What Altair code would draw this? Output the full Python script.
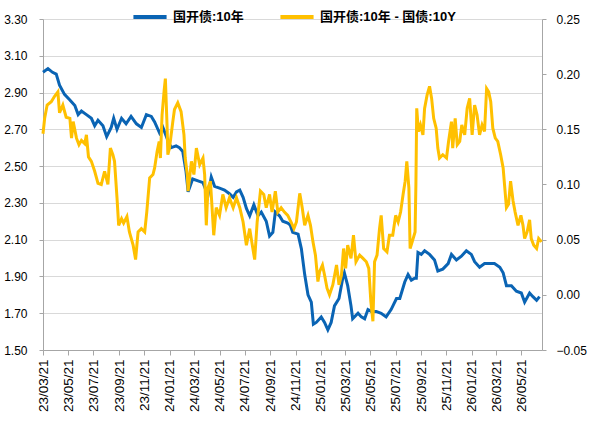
import altair as alt
import pandas as pd

S1 = "国开债:10年"
S2 = "国开债:10年 - 国债:10Y"
BLUE = "#0A64B4"
GOLD = "#FFC000"

blue_dates = [
    "2023-03-21", "2023-04-02", "2023-04-13", "2023-04-22", "2023-04-30", "2023-05-12",
    "2023-05-25", "2023-06-06", "2023-06-14", "2023-06-22", "2023-07-04", "2023-07-16",
    "2023-07-24", "2023-08-01", "2023-08-13", "2023-08-22", "2023-09-02", "2023-09-08",
    "2023-09-16", "2023-09-27", "2023-10-08", "2023-10-20", "2023-11-02", "2023-11-14",
    "2023-11-26", "2023-12-08", "2023-12-16", "2023-12-28", "2024-01-05", "2024-01-17",
    "2024-01-25", "2024-02-06", "2024-02-14", "2024-02-22", "2024-03-01", "2024-03-06",
    "2024-03-17", "2024-03-30", "2024-04-11", "2024-04-23", "2024-05-01", "2024-05-09",
    "2024-05-21", "2024-06-02", "2024-06-14", "2024-06-23", "2024-07-01", "2024-07-09",
    "2024-07-17", "2024-07-25", "2024-08-02", "2024-08-12", "2024-08-22", "2024-08-30",
    "2024-09-11", "2024-09-19", "2024-09-27", "2024-10-03", "2024-10-13", "2024-10-21",
    "2024-11-02", "2024-11-08", "2024-11-14", "2024-11-27", "2024-12-05", "2024-12-13",
    "2024-12-21", "2024-12-29", "2025-01-03", "2025-01-10", "2025-01-22", "2025-01-30",
    "2025-02-07", "2025-02-15", "2025-02-23", "2025-03-06", "2025-03-15", "2025-03-19",
    "2025-03-27", "2025-04-04", "2025-04-08", "2025-04-21", "2025-04-29", "2025-05-07",
    "2025-05-15", "2025-05-23", "2025-06-04", "2025-06-16", "2025-06-28", "2025-07-10",
    "2025-07-23", "2025-07-31", "2025-08-12", "2025-08-20", "2025-08-28", "2025-09-05",
    "2025-09-09", "2025-09-13", "2025-09-21", "2025-09-29", "2025-10-11", "2025-10-23",
    "2025-10-31", "2025-11-12", "2025-11-25", "2025-12-03", "2025-12-15", "2025-12-27",
    "2026-01-08", "2026-01-20", "2026-01-28", "2026-02-09", "2026-02-21", "2026-03-05",
    "2026-03-17", "2026-03-30", "2026-04-07", "2026-04-15", "2026-04-27", "2026-05-09",
    "2026-05-21", "2026-05-29", "2026-06-10", "2026-06-18", "2026-06-27", "2026-07-04",
]
blue_vals = [
    3.01, 3.03, 3.01, 3.00, 2.94, 2.89,
    2.86, 2.83, 2.78, 2.80, 2.78, 2.76,
    2.72, 2.75, 2.72, 2.66, 2.71, 2.76,
    2.70, 2.76, 2.73, 2.77, 2.73, 2.71,
    2.78, 2.77, 2.74, 2.68, 2.71, 2.64,
    2.60, 2.61, 2.60, 2.58, 2.47, 2.36,
    2.43, 2.42, 2.41, 2.34, 2.44, 2.39,
    2.38, 2.37, 2.35, 2.33, 2.36, 2.37,
    2.33, 2.27, 2.23, 2.29, 2.23, 2.25,
    2.20, 2.12, 2.14, 2.25, 2.23, 2.20,
    2.19, 2.18, 2.14, 2.13, 2.05, 1.91,
    1.80, 1.76, 1.64, 1.65, 1.68, 1.65,
    1.61, 1.65, 1.74, 1.78, 1.89, 1.92,
    1.85, 1.74, 1.67, 1.70, 1.68, 1.67,
    1.72, 1.71, 1.71, 1.70, 1.68, 1.72,
    1.78, 1.78, 1.87, 1.91, 1.88, 1.89,
    1.89, 2.03, 2.02, 2.04, 2.02, 1.99,
    1.93, 1.94, 1.97, 2.02, 1.99, 2.01,
    2.04, 2.02, 1.98, 1.95, 1.97, 1.97,
    1.97, 1.95, 1.92, 1.85, 1.85, 1.82,
    1.81, 1.76, 1.81, 1.79, 1.77, 1.79,
]

gold_dates = [
    "2023-03-21", "2023-03-25", "2023-03-31", "2023-04-10", "2023-04-18", "2023-04-26",
    "2023-04-30", "2023-05-08", "2023-05-16", "2023-05-25", "2023-05-29", "2023-06-02",
    "2023-06-10", "2023-06-16", "2023-06-22", "2023-06-30", "2023-07-04", "2023-07-09",
    "2023-07-16", "2023-07-24", "2023-08-01", "2023-08-09", "2023-08-17", "2023-08-25",
    "2023-08-31", "2023-09-06", "2023-09-10", "2023-09-16", "2023-09-20", "2023-09-27",
    "2023-10-02", "2023-10-10", "2023-10-16", "2023-10-25", "2023-10-31", "2023-11-06",
    "2023-11-14", "2023-11-22", "2023-11-27", "2023-12-04", "2023-12-12", "2023-12-16",
    "2023-12-22", "2023-12-27", "2023-12-30", "2024-01-03", "2024-01-08", "2024-01-11",
    "2024-01-15", "2024-01-17", "2024-01-21", "2024-01-29", "2024-02-02", "2024-02-10",
    "2024-02-18", "2024-02-25", "2024-02-28", "2024-03-04", "2024-03-06", "2024-03-14",
    "2024-03-20", "2024-03-26", "2024-04-03", "2024-04-11", "2024-04-15", "2024-04-19",
    "2024-04-23", "2024-04-29", "2024-05-07", "2024-05-13", "2024-05-21", "2024-05-29",
    "2024-06-06", "2024-06-14", "2024-06-23", "2024-07-01", "2024-07-09", "2024-07-17",
    "2024-07-25", "2024-08-02", "2024-08-07", "2024-08-14", "2024-08-20", "2024-08-28",
    "2024-09-05", "2024-09-11", "2024-09-19", "2024-09-25", "2024-10-03", "2024-10-09",
    "2024-10-17", "2024-10-25", "2024-11-02", "2024-11-10", "2024-11-17", "2024-11-23",
    "2024-12-01", "2024-12-07", "2024-12-13", "2024-12-21", "2024-12-27", "2025-01-02",
    "2025-01-08", "2025-01-14", "2025-01-18", "2025-01-25", "2025-01-30", "2025-02-05",
    "2025-02-11", "2025-02-19", "2025-02-28", "2025-03-06", "2025-03-12", "2025-03-17",
    "2025-03-22", "2025-03-27", "2025-04-04", "2025-04-10", "2025-04-16", "2025-04-25",
    "2025-05-03", "2025-05-11", "2025-05-17", "2025-05-22", "2025-05-27", "2025-05-31",
    "2025-06-06", "2025-06-12", "2025-06-16", "2025-06-22", "2025-06-30", "2025-07-06",
    "2025-07-14", "2025-07-21", "2025-07-27", "2025-08-02", "2025-08-08", "2025-08-13",
    "2025-08-17", "2025-08-22", "2025-08-25", "2025-08-30", "2025-09-06", "2025-09-08",
    "2025-09-10", "2025-09-14", "2025-09-19", "2025-09-25", "2025-09-29", "2025-10-05",
    "2025-10-11", "2025-10-16", "2025-10-21", "2025-10-27", "2025-10-31", "2025-11-04",
    "2025-11-12", "2025-11-21", "2025-11-26", "2025-12-03", "2025-12-06", "2025-12-12",
    "2025-12-17", "2025-12-23", "2025-12-28", "2026-01-04", "2026-01-10", "2026-01-16",
    "2026-01-22", "2026-01-28", "2026-02-03", "2026-02-09", "2026-02-15", "2026-02-21",
    "2026-02-26", "2026-03-03", "2026-03-08", "2026-03-13", "2026-03-19", "2026-03-25",
    "2026-04-01", "2026-04-07", "2026-04-11", "2026-04-15", "2026-04-20", "2026-04-25",
    "2026-05-01", "2026-05-06", "2026-05-13", "2026-05-20", "2026-05-25", "2026-05-29",
    "2026-06-04", "2026-06-10", "2026-06-14", "2026-06-20", "2026-06-27", "2026-07-02",
    "2026-07-09",
]
gold_vals = [
    0.146, 0.160, 0.172, 0.175, 0.180, 0.184,
    0.165, 0.172, 0.161, 0.160, 0.142, 0.157,
    0.142, 0.136, 0.140, 0.137, 0.145, 0.125,
    0.121, 0.112, 0.101, 0.100, 0.112, 0.100,
    0.133, 0.127, 0.121, 0.088, 0.063, 0.069,
    0.065, 0.071, 0.057, 0.045, 0.032, 0.057,
    0.060, 0.057, 0.075, 0.106, 0.109, 0.115,
    0.130, 0.139, 0.124, 0.163, 0.185, 0.196,
    0.154, 0.127, 0.133, 0.157, 0.168, 0.174,
    0.166, 0.145, 0.124, 0.109, 0.094, 0.121,
    0.109, 0.133, 0.118, 0.124, 0.109, 0.063,
    0.097, 0.103, 0.054, 0.079, 0.072, 0.091,
    0.079, 0.088, 0.079, 0.088, 0.079, 0.066,
    0.045, 0.060, 0.048, 0.032, 0.066, 0.094,
    0.091, 0.079, 0.091, 0.075, 0.094, 0.075,
    0.079, 0.075, 0.072, 0.066, 0.060, 0.066,
    0.092, 0.079, 0.063, 0.072, 0.063, 0.048,
    0.036, 0.012, 0.021, 0.027, 0.018, 0.006,
    0.000, 0.009, 0.027, 0.009, 0.018, 0.042,
    0.024, 0.045, 0.033, 0.054, 0.030, 0.036,
    0.033, 0.030, 0.024, -0.006, -0.024, 0.030,
    0.036, 0.060, 0.072, 0.042, 0.039, 0.054,
    0.054, 0.072, 0.066, 0.075, 0.091, 0.103,
    0.121, 0.097, 0.042, 0.048, 0.057, 0.100,
    0.169, 0.148, 0.154, 0.145, 0.169, 0.181,
    0.189, 0.178, 0.160, 0.151, 0.133, 0.124,
    0.127, 0.124, 0.139, 0.157, 0.133, 0.160,
    0.136, 0.139, 0.154, 0.145, 0.169, 0.178,
    0.145, 0.172, 0.163, 0.145, 0.154, 0.148,
    0.187, 0.184, 0.175, 0.151, 0.142, 0.139,
    0.127, 0.115, 0.097, 0.079, 0.082, 0.103,
    0.085, 0.075, 0.063, 0.072, 0.063, 0.051,
    0.057, 0.068, 0.051, 0.045, 0.042, 0.051,
    0.048,
]

tick_dates = [
    (2023, 3), (2023, 5), (2023, 7), (2023, 9), (2023, 11),
    (2024, 1), (2024, 3), (2024, 5), (2024, 7), (2024, 9), (2024, 11),
    (2025, 1), (2025, 3), (2025, 5), (2025, 7), (2025, 9), (2025, 11),
    (2026, 1), (2026, 3), (2026, 5),
]
left_ticks = [1.5, 1.7, 1.9, 2.1, 2.3, 2.5, 2.7, 2.9, 3.1, 3.3]
right_ticks = [-0.05, 0.0, 0.05, 0.10, 0.15, 0.20, 0.25]

df_blue = pd.DataFrame({"date": blue_dates, "value": blue_vals, "series": S1})
df_gold = pd.DataFrame({"date": gold_dates, "value": gold_vals, "series": S2})

FONT = "Liberation Sans, Arial, Noto Sans CJK SC"
AXIS_GREY = "#A6A6A6"

x_enc = alt.X(
    "date:T",
    title="",
    scale=alt.Scale(
        type="utc",
        domain=[alt.DateTime(year=2023, month=3, date=21, utc=True),
                alt.DateTime(year=2026, month=7, date=10, utc=True)],
    ),
    axis=alt.Axis(
        values=[alt.DateTime(year=y, month=m, date=21, utc=True) for y, m in tick_dates],
        labelExpr="utcFormat(datum.value, '%y/%m/%d')",
        labelAngle=270,
        labelFontSize=13.5,
        labelPadding=4,
        tickSize=5,
        grid=False,
        labelOverlap=False,
    ),
)

color_scale = alt.Scale(domain=[S1, S2], range=[BLUE, GOLD])

legend = alt.Legend(
    title="",
    orient="none",
    legendX=88,
    legendY=-21,
    direction="horizontal",
    symbolType="stroke",
    symbolSize=1100,
    symbolStrokeWidth=4,
    labelFontSize=13,
    labelFontWeight="bold",
    labelFont=FONT,
    labelColor="#000000",
    columnPadding=28,
    labelOffset=4,
)

blue_line = alt.Chart(df_blue).mark_line(strokeWidth=3).encode(
    x=x_enc,
    y=alt.Y(
        "value:Q",
        title="",
        scale=alt.Scale(domain=[1.5, 3.3], nice=False, zero=False),
        axis=alt.Axis(
            values=left_ticks,
            format=".2f",
            orient="left",
            grid=True,
            gridColor="#D9D9D9",
            gridWidth=1,
            labelFontSize=12,
            tickSize=4,
            labelPadding=12,
        ),
    ),
    color=alt.Color("series:N", scale=color_scale, legend=legend),
)

gold_line = alt.Chart(df_gold).mark_line(strokeWidth=3).encode(
    x=x_enc,
    y=alt.Y(
        "value:Q",
        title="",
        scale=alt.Scale(domain=[-0.05, 0.25], nice=False, zero=False),
        axis=alt.Axis(
            values=right_ticks,
            format=".2f",
            orient="right",
            grid=False,
            labelFontSize=12,
            tickSize=4,
            labelPadding=10,
        ),
    ),
    color=alt.Color("series:N", scale=color_scale, legend=legend),
)

chart = (
    alt.layer(blue_line, gold_line)
    .resolve_scale(y="independent")
    .properties(
        width=499,
        height=331,
        autosize=alt.AutoSizeParams(type="none"),
        padding={"left": 43, "top": 19, "right": 48, "bottom": 75},
        background="white",
    )
    .configure_view(stroke=None)
    .configure_axis(
        labelFont=FONT,
        labelColor="#000000",
        domainColor=AXIS_GREY,
        tickColor=AXIS_GREY,
        domainWidth=1,
    )
)

chart.save("out.html", embed_options={"renderer": "svg", "actions": False})
